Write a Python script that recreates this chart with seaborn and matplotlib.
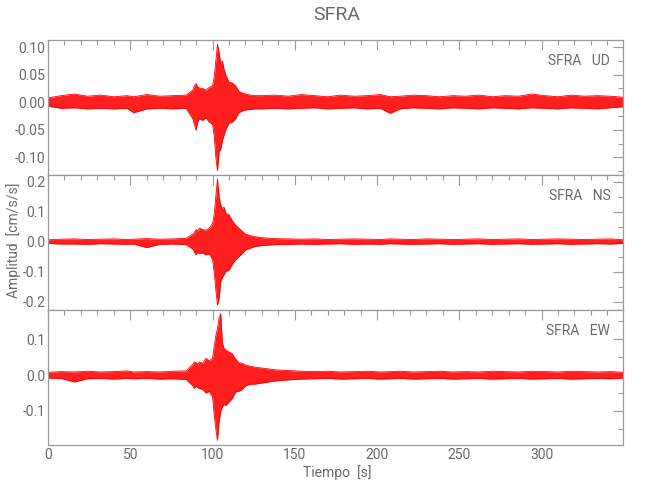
import matplotlib
matplotlib.use("Agg")
import matplotlib.pyplot as plt
from matplotlib.ticker import MultipleLocator, FormatStrFormatter
import seaborn as sns
import pandas as pd

# time knots [s] and envelope (cm/s/s)
time_s = [0, 8, 16, 24, 32, 40, 48, 52, 60, 68, 76, 84,
          88, 89, 90, 91, 92, 94, 96, 98, 100, 101, 102, 103, 104, 105, 106,
          107, 108, 110, 112, 114, 116, 118, 120, 123, 126, 130,
          138, 146, 154, 162, 170, 178, 186, 194, 202, 208, 214, 222, 230,
          238, 246, 254, 262, 270, 278, 286, 294, 302, 310, 318, 326, 334, 342, 350]

ud_upper = [0.008, 0.012, 0.015, 0.011, 0.013, 0.010, 0.012, 0.010, 0.014, 0.011, 0.012, 0.013,
            0.022, 0.030, 0.034, 0.028, 0.026, 0.025, 0.022, 0.027, 0.030, 0.045, 0.075, 0.105, 0.090,
            0.070, 0.075, 0.060, 0.050, 0.037, 0.035, 0.030, 0.020, 0.017, 0.015, 0.013, 0.012, 0.012,
            0.013, 0.011, 0.014, 0.012, 0.010, 0.013, 0.011, 0.012, 0.014, 0.010, 0.011, 0.013, 0.012,
            0.010, 0.012, 0.011, 0.013, 0.010, 0.012, 0.011, 0.015, 0.012, 0.010, 0.013, 0.011, 0.012, 0.011, 0.009]
ud_lower = [-0.007, -0.011, -0.010, -0.012, -0.011, -0.012, -0.011, -0.019, -0.012, -0.011, -0.012, -0.011,
            -0.030, -0.040, -0.051, -0.035, -0.030, -0.033, -0.028, -0.036, -0.040, -0.060, -0.100, -0.124, -0.090,
            -0.085, -0.070, -0.060, -0.050, -0.038, -0.036, -0.030, -0.019, -0.016, -0.014, -0.013, -0.012, -0.012,
            -0.011, -0.012, -0.011, -0.010, -0.012, -0.011, -0.010, -0.012, -0.011, -0.020, -0.012, -0.010, -0.011,
            -0.012, -0.010, -0.011, -0.012, -0.010, -0.011, -0.012, -0.010, -0.011, -0.012, -0.010, -0.011, -0.012, -0.010, -0.008]

ns_upper = [0.006, 0.008, 0.009, 0.007, 0.008, 0.009, 0.007, 0.008, 0.010, 0.008, 0.009, 0.011,
            0.025, 0.030, 0.040, 0.035, 0.045, 0.040, 0.038, 0.045, 0.060, 0.090, 0.150, 0.209, 0.150,
            0.122, 0.110, 0.115, 0.095, 0.089, 0.070, 0.055, 0.045, 0.035, 0.025, 0.020, 0.016, 0.013,
            0.010, 0.009, 0.008, 0.009, 0.007, 0.008, 0.009, 0.008, 0.007, 0.009, 0.008, 0.007, 0.009,
            0.008, 0.007, 0.008, 0.009, 0.007, 0.008, 0.009, 0.007, 0.008, 0.009, 0.008, 0.007, 0.008, 0.009, 0.006]
ns_lower = [-0.006, -0.008, -0.008, -0.009, -0.007, -0.008, -0.009, -0.008, -0.020, -0.009, -0.008, -0.010,
            -0.025, -0.035, -0.044, -0.035, -0.040, -0.038, -0.044, -0.040, -0.060, -0.100, -0.160, -0.211, -0.190,
            -0.133, -0.120, -0.110, -0.100, -0.095, -0.075, -0.061, -0.050, -0.040, -0.028, -0.022, -0.016, -0.013,
            -0.010, -0.009, -0.008, -0.009, -0.008, -0.007, -0.009, -0.008, -0.009, -0.007, -0.008, -0.009, -0.008,
            -0.007, -0.009, -0.008, -0.007, -0.009, -0.008, -0.007, -0.009, -0.008, -0.007, -0.009, -0.008, -0.007, -0.008, -0.006]

ew_upper = [0.008, 0.010, 0.009, 0.011, 0.009, 0.010, 0.012, 0.009, 0.010, 0.009, 0.011, 0.012,
            0.030, 0.037, 0.035, 0.030, 0.037, 0.033, 0.047, 0.040, 0.047, 0.080, 0.110, 0.130, 0.160,
            0.172, 0.090, 0.075, 0.070, 0.065, 0.060, 0.045, 0.035, 0.033, 0.028, 0.025, 0.022, 0.020,
            0.015, 0.013, 0.011, 0.010, 0.011, 0.009, 0.010, 0.011, 0.009, 0.010, 0.011, 0.009, 0.010,
            0.011, 0.009, 0.010, 0.009, 0.011, 0.010, 0.009, 0.011, 0.010, 0.009, 0.011, 0.010, 0.009, 0.010, 0.008]
ew_lower = [-0.008, -0.009, -0.019, -0.010, -0.009, -0.011, -0.009, -0.010, -0.009, -0.011, -0.010, -0.012,
            -0.030, -0.037, -0.030, -0.035, -0.037, -0.040, -0.050, -0.045, -0.060, -0.110, -0.150, -0.182, -0.130,
            -0.100, -0.089, -0.080, -0.085, -0.075, -0.065, -0.047, -0.045, -0.040, -0.030, -0.025, -0.025, -0.022,
            -0.016, -0.013, -0.011, -0.010, -0.009, -0.011, -0.010, -0.009, -0.011, -0.010, -0.009, -0.011, -0.010,
            -0.009, -0.011, -0.010, -0.009, -0.011, -0.010, -0.009, -0.011, -0.010, -0.009, -0.011, -0.010, -0.009, -0.010, -0.008]

components = ["UD", "NS", "EW"]
station = "SFRA"
y_limits = [(-0.132, 0.113), (-0.228, 0.222), (-0.195, 0.182)]
y_major = [0.05, 0.1, 0.1]
y_minor = [0.025, 0.05, 0.05]
y_fmt = ["%.2f", "%.1f", "%.1f"]

sns.set_style("white")
plt.rcParams["font.family"] = ["Roboto", "DejaVu Sans"]
plt.rcParams["axes.unicode_minus"] = True

GRAY = "#9a9a9a"
TEXT = "#6a6a6a"

fig = plt.figure(figsize=(6.5, 5.0), dpi=100)
left, width = 48 / 650, 575 / 650
bottoms = [0.65, 0.38, 0.11]
height = 0.27

envelopes = [(ud_upper, ud_lower), (ns_upper, ns_lower), (ew_upper, ew_lower)]

for i, comp in enumerate(components):
    ax = fig.add_axes([left, bottoms[i], width, height])
    upper, lower = envelopes[i]
    df = pd.DataFrame({"Tiempo": time_s, "upper": upper, "lower": lower})

    ax.fill_between(df["Tiempo"], df["lower"], df["upper"], color="red", alpha=0.88, lw=0)
    sns.lineplot(data=df, x="Tiempo", y="upper", ax=ax, color="red", lw=0.6)
    sns.lineplot(data=df, x="Tiempo", y="lower", ax=ax, color="red", lw=0.6)

    ax.set_xlim(0, 349.5)
    ax.set_ylim(*y_limits[i])
    ax.xaxis.set_major_locator(MultipleLocator(50))
    ax.xaxis.set_minor_locator(MultipleLocator(10))
    ax.yaxis.set_major_locator(MultipleLocator(y_major[i]))
    ax.yaxis.set_minor_locator(MultipleLocator(y_minor[i]))
    ax.yaxis.set_major_formatter(FormatStrFormatter(y_fmt[i]))

    for s in ax.spines.values():
        s.set_color(GRAY)
        s.set_linewidth(0.9)
    ax.tick_params(which="both", direction="in", top=True, right=True,
                   color=GRAY, labelcolor=TEXT, labelsize=10, width=0.8)
    ax.tick_params(which="major", length=7, pad=2)
    ax.tick_params(which="minor", length=3.5)
    ax.set_xlabel("")
    ax.set_ylabel("")
    if i < 2:
        ax.tick_params(labelbottom=False)

    ax.text(0.978, 0.845, f"{station}   {comp}", transform=ax.transAxes,
            ha="right", va="center", fontsize=10, color=TEXT)

fig.text(337 / 650, 1 - 15 / 500, station, ha="center", va="center",
         fontsize=14, color=TEXT)
fig.text(337 / 650, 1 - 473 / 500, "Tiempo  [s]", ha="center", va="center",
         fontsize=10, color=TEXT)
fig.text(14 / 650, 1 - 240 / 500, "Amplitud  [cm/s/s]", ha="center", va="center",
         rotation=90, fontsize=10, color=TEXT)

fig.savefig("out.png", dpi=100)
